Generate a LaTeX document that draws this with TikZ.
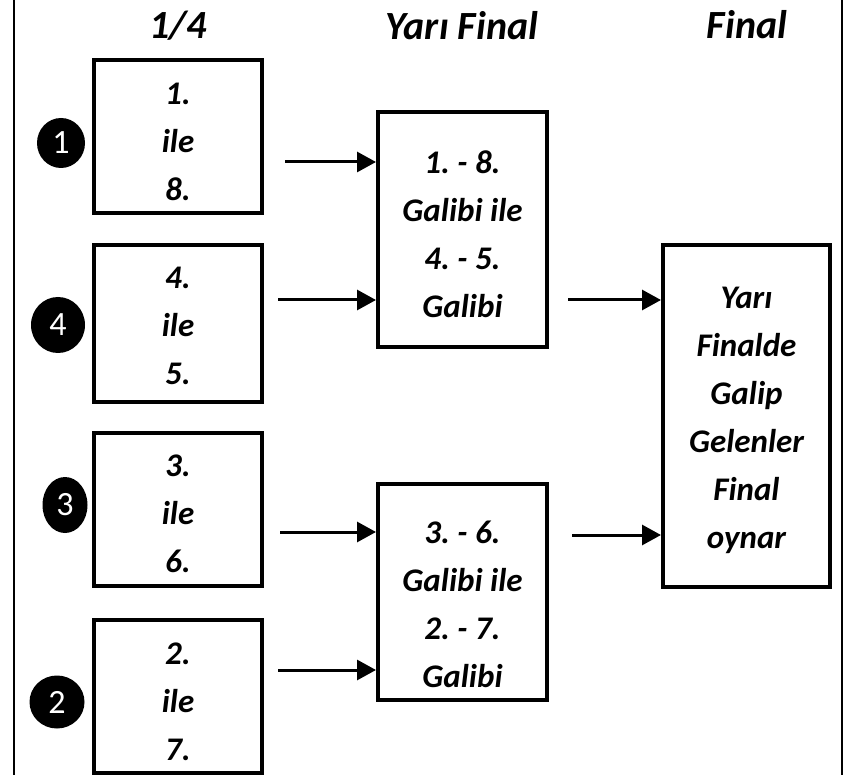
\documentclass[tikz,border=0pt]{standalone}
\usepackage{fontspec}
\setmainfont{Carlito}
\usetikzlibrary{arrows.meta,shapes.geometric}
\tikzset{
  frameline/.style={line width=2.5pt},
  boxnode/.style={draw, line width=4pt, fill=white, inner sep=0pt},
  txt/.style={align=center, inner sep=0pt, font=\fontsize{33}{48}\selectfont\bfseries\itshape},
  head/.style={inner sep=0pt, font=\fontsize{40}{48}\selectfont\bfseries\itshape},
  num/.style={ellipse, fill=black, text=white, inner sep=0pt, font=\fontsize{34}{40}\selectfont},
  conn/.style={line width=3pt, -{Triangle[length=19pt,width=20pt]}}
}
\frenchspacing
\begin{document}
\begin{tikzpicture}[x=1pt,y=-1pt]
\useasboundingbox (0,0) rectangle (846,775);
\fill[white] (0,0) rectangle (846,775);
\coordinate (fl1) at (14,0); \coordinate (fl2) at (14,775);
\coordinate (fr1) at (842,0); \coordinate (fr2) at (842,775);
\draw[frameline] (fl1) -- (fl2);
\draw[frameline] (fr1) -- (fr2);
% headers
\node[head] (h1) at (178,26) {1/4};
\node[head] (h2) at (462,26) {Yarı Final};
\node[head] (h3) at (747,25) {Final};
% quarter boxes
\node[boxnode, minimum width=168pt, minimum height=153pt] (q1) at (178,136.5) {};
\node[boxnode, minimum width=168pt, minimum height=157pt] (q4) at (178,323.5) {};
\node[boxnode, minimum width=168pt, minimum height=153pt] (q3) at (178,509.5) {};
\node[boxnode, minimum width=168pt, minimum height=153pt] (q2) at (178,696.5) {};
\node[txt] (t1) at (178,142) {1.\\ile\\8.};
\node[txt] (t4) at (178,326) {4.\\ile\\5.};
\node[txt] (t3) at (178,514) {3.\\ile\\6.};
\node[txt] (t2) at (178,702) {2.\\ile\\7.};
% number markers
\node[num, minimum width=48pt, minimum height=50pt] (n1) at (61,143) {1};
\node[num, minimum width=54pt, minimum height=56pt] (n4) at (58,325) {4};
\node[num, minimum width=45pt, minimum height=56pt] (n3) at (65,505) {3};
\node[num, minimum width=55pt, minimum height=53pt] (n2) at (57,702) {2};
% semi-final boxes
\node[boxnode, minimum width=169pt, minimum height=235pt] (s1) at (462.5,229.5) {};
\node[boxnode, minimum width=169pt, minimum height=216pt] (s2) at (462.5,592) {};
\node[txt] (ts1) at (462.5,234) {1. - 8.\\Galibi ile\\4. - 5.\\Galibi};
\node[txt] (ts2) at (462.5,604) {3. - 6.\\Galibi ile\\2. - 7.\\Galibi};
% final box
\node[boxnode, minimum width=167pt, minimum height=342pt] (f) at (746.5,416) {};
\node[txt] (tf) at (746.5,420) {Yarı\\Finalde\\Galip\\Gelenler\\Final\\oynar};
% arrows
\coordinate (a1) at (285,162);
\coordinate (a2) at (278,300);
\coordinate (a3) at (280,532);
\coordinate (a4) at (278,670);
\coordinate (a5) at (568,300);
\coordinate (a6) at (572,535);
\draw[conn] (a1) -- (a1 -| s1.west);
\draw[conn] (a2) -- (a2 -| s1.west);
\draw[conn] (a3) -- (a3 -| s2.west);
\draw[conn] (a4) -- (a4 -| s2.west);
\draw[conn] (a5) -- (a5 -| f.west);
\draw[conn] (a6) -- (a6 -| f.west);
\end{tikzpicture}
\end{document}
